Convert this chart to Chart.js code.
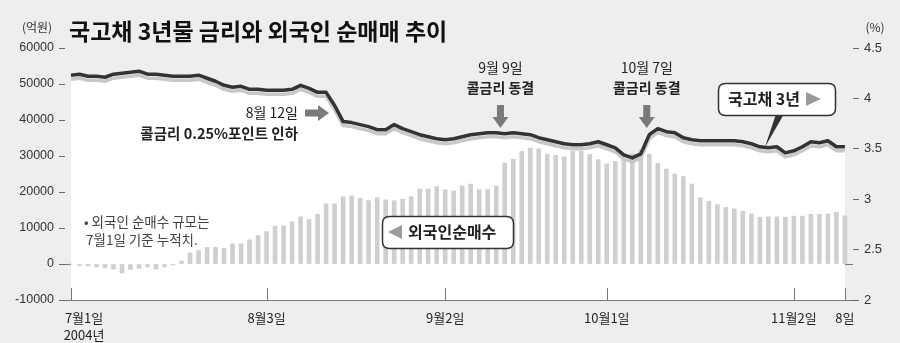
<!DOCTYPE html>
<html>
<head>
<meta charset="utf-8">
<script src="https://cdn.jsdelivr.net/npm/chart.js@4"></script>
<style>
  html, body { margin: 0; padding: 0; background: #eeeeee; }
  canvas { display: block; }
</style>
</head>
<body>
<canvas id="chart" width="900" height="343"></canvas>
<script>
// 국고채 3년물 금리 (%), 7월1일 ~ 11월8일 거래일 순서
const rate3y = [
  4.23, 4.24, 4.22, 4.22, 4.21, 4.24, 4.25, 4.26, 4.27, 4.24,
  4.24, 4.23, 4.22, 4.22, 4.22, 4.23, 4.20, 4.17, 4.13, 4.11,
  4.12, 4.09, 4.09, 4.08, 4.08, 4.08, 4.09, 4.13, 4.10, 4.06,
  4.06, 3.93, 3.77, 3.76, 3.74, 3.72, 3.69, 3.69, 3.74, 3.70,
  3.67, 3.64, 3.62, 3.60, 3.59, 3.60, 3.62, 3.64, 3.65, 3.66,
  3.66, 3.65, 3.66, 3.65, 3.64, 3.61, 3.59, 3.57, 3.55, 3.54,
  3.54, 3.55, 3.57, 3.54, 3.51, 3.44, 3.41, 3.45, 3.64, 3.70,
  3.67, 3.66, 3.61, 3.59, 3.58, 3.58, 3.58, 3.58, 3.58, 3.57,
  3.55, 3.52, 3.51, 3.52, 3.46, 3.48, 3.52, 3.57, 3.56, 3.58,
  3.52, 3.52
];

// 외국인 순매수 누적 (억원)
const netBuy = [
  0, -500, -500, -800, -1000, -1400, -2500, -1500, -1200, -800,
  -1400, -800, -300, 800, 3100, 3700, 4600, 4600, 4300, 5600,
  5600, 6700, 7900, 9000, 10500, 10600, 11700, 13100, 12400, 13800,
  16700, 16700, 18700, 18900, 18300, 17600, 18400, 17800, 17600, 18000,
  18700, 20800, 20800, 21500, 20600, 20300, 21700, 22200, 20600, 20700,
  21700, 28000, 29100, 31300, 32200, 32000, 30500, 30200, 29800, 31300,
  31300, 30400, 29000, 27800, 28500, 29500, 30600, 31800, 30500, 28000,
  26400, 25000, 24300, 22200, 18400, 17400, 16500, 15700, 15300, 14700,
  13900, 13000, 13100, 13100, 13000, 13300, 13300, 13800, 13800, 13900,
  14400, 13400
];

// x축 눈금 (거래일 순번)과 라벨
const xTickIndex = [0, 23, 44, 63, 85, 91];
const xTickLabel = [['         7월1일', '         2004년'], '8월3일', '9월2일', '10월1일', '11월2일', '8일'];

const KR = '"Noto Sans CJK KR", sans-serif';
const NUM = '"Liberation Sans", Arial, sans-serif';

// 선 그림자
const lineShadow = {
  id: 'lineShadow',
  beforeDatasetDraw(chart, args) {
    if (args.index !== 0) return;
    const ctx = chart.ctx;
    ctx.save();
    ctx.shadowColor = '#c8c8c8';
    ctx.shadowOffsetX = 0;
    ctx.shadowOffsetY = 4;
    ctx.shadowBlur = 0;
  },
  afterDatasetDraw(chart, args) {
    if (args.index === 0) chart.ctx.restore();
  }
};

function roundBox(ctx, x, y, w, h, r) {
  ctx.beginPath();
  ctx.moveTo(x + r, y);
  ctx.lineTo(x + w - r, y);
  ctx.quadraticCurveTo(x + w, y, x + w, y + r);
  ctx.lineTo(x + w, y + h - r);
  ctx.quadraticCurveTo(x + w, y + h, x + w - r, y + h);
  ctx.lineTo(x + r, y + h);
  ctx.quadraticCurveTo(x, y + h, x, y + h - r);
  ctx.lineTo(x, y + r);
  ctx.quadraticCurveTo(x, y, x + r, y);
  ctx.closePath();
}

function downArrow(ctx, cx, y0, y1) {
  ctx.fillStyle = '#7a7a7a';
  ctx.fillRect(cx - 3.5, y0, 7, y1 - y0 - 10);
  ctx.beginPath();
  ctx.moveTo(cx - 8, y1 - 11);
  ctx.lineTo(cx + 8, y1 - 11);
  ctx.lineTo(cx, y1);
  ctx.closePath();
  ctx.fill();
}

function rightArrow(ctx, x0, x1, cy) {
  ctx.fillStyle = '#7a7a7a';
  ctx.fillRect(x0, cy - 3.5, x1 - x0 - 10, 7);
  ctx.beginPath();
  ctx.moveTo(x1 - 11, cy - 8);
  ctx.lineTo(x1 - 11, cy + 8);
  ctx.lineTo(x1, cy);
  ctx.closePath();
  ctx.fill();
}

const notes = {
  id: 'notes',
  afterDraw(chart) {
    const { ctx, chartArea, scales: { x } } = chart;
    ctx.save();

    // x축 눈금선 (안쪽)
    ctx.strokeStyle = '#777';
    ctx.lineWidth = 1;
    xTickIndex.forEach(v => {
      const px = Math.round(x.getPixelForValue(v)) + 0.5;
      ctx.beginPath();
      ctx.moveTo(px, chartArea.bottom - 12);
      ctx.lineTo(px, chartArea.bottom);
      ctx.stroke();
    });

    ctx.textBaseline = 'middle';

    // 제목
    ctx.fillStyle = '#111';
    ctx.textAlign = 'left';
    ctx.font = 'bold 23px ' + KR;
    ctx.fillText('국고채 3년물 금리와 외국인 순매매 추이', 69, 31);

    // 단위
    ctx.fillStyle = '#333';
    ctx.font = '12px ' + KR;
    ctx.textAlign = 'center';
    ctx.fillText('(억원)', 37, 27);
    ctx.fillText('(%)', 875, 27);

    // 8월 12일
    ctx.fillStyle = '#222';
    ctx.textAlign = 'right';
    ctx.font = '14px ' + KR;
    ctx.fillText('8월 12일', 298, 113);
    ctx.font = 'bold 14.5px ' + KR;
    ctx.fillText('콜금리 0.25%포인트 인하', 298, 133);
    rightArrow(ctx, 305, 329, 113);

    // 9월 9일, 10월 7일
    [[50.5, '9월 9일'], [67.7, '10월 7일']].forEach(([idx, day]) => {
      const px = x.getPixelForValue(idx);
      ctx.fillStyle = '#222';
      ctx.textAlign = 'center';
      ctx.font = '14px ' + KR;
      ctx.fillText(day, px, 68);
      ctx.font = 'bold 14px ' + KR;
      ctx.fillText('콜금리 동결', px, 88);
      downArrow(ctx, px, 105, 128);
    });

    // 국고채 3년 말풍선
    ctx.fillStyle = '#333';
    ctx.beginPath();
    ctx.moveTo(776, 114);
    ctx.lineTo(784, 114);
    ctx.lineTo(765, 147);
    ctx.closePath();
    ctx.fill();
    roundBox(ctx, 718.5, 83.5, 117, 32, 7);
    ctx.fillStyle = '#fff';
    ctx.fill();
    ctx.strokeStyle = '#333';
    ctx.lineWidth = 1.5;
    ctx.stroke();
    ctx.fillStyle = '#222';
    ctx.textAlign = 'left';
    ctx.font = 'bold 16px ' + KR;
    ctx.fillText('국고채 3년', 728, 99);
    ctx.fillStyle = '#9a9a9a';
    ctx.beginPath();
    ctx.moveTo(806, 92);
    ctx.lineTo(806, 106);
    ctx.lineTo(821, 99);
    ctx.closePath();
    ctx.fill();

    // 외국인순매수 상자
    roundBox(ctx, 382.5, 216.5, 131, 32, 7);
    ctx.fillStyle = '#fff';
    ctx.fill();
    ctx.strokeStyle = '#333';
    ctx.stroke();
    ctx.fillStyle = '#9a9a9a';
    ctx.beginPath();
    ctx.moveTo(402, 225);
    ctx.lineTo(402, 239);
    ctx.lineTo(388, 232);
    ctx.closePath();
    ctx.fill();
    ctx.fillStyle = '#222';
    ctx.font = 'bold 16px ' + KR;
    ctx.fillText('외국인순매수', 408, 232);

    // 주석
    ctx.fillStyle = '#444';
    ctx.font = '13.5px ' + KR;
    ctx.fillText('• 외국인 순매수 규모는', 84, 222);
    ctx.fillText('7월1일 기준 누적치.', 86, 240);

    ctx.restore();
  }
};

const ctx = document.getElementById('chart');
const myChart = new Chart(ctx, {
  type: 'bar',
  data: {
    datasets: [{
      type: 'line',
      label: '국고채 3년',
      data: rate3y.map((v, i) => ({ x: i, y: v })),
      yAxisID: 'y2',
      borderColor: '#333333',
      borderWidth: 3.5,
      backgroundColor: '#ffffff',
      fill: 'start',
      pointRadius: 0,
      tension: 0,
      borderJoinStyle: 'round'
    }, {
      type: 'bar',
      label: '외국인순매수',
      data: netBuy.map((v, i) => ({ x: i, y: v })),
      yAxisID: 'y',
      backgroundColor: '#cfcfcf',
      barThickness: 4,
      clip: 6
    }]
  },
  options: {
    responsive: false,
    animation: false,
    layout: { padding: { top: 48, left: 0, right: 0, bottom: 0 } },
    plugins: {
      legend: { display: false },
      tooltip: { enabled: false },
      filler: { drawTime: 'beforeDatasetsDraw' }
    },
    scales: {
      x: {
        type: 'linear',
        min: -0.7,
        max: 91.95,
        offset: false,
        grid: { display: false },
        border: { display: false },
        afterBuildTicks: s => { s.ticks = xTickIndex.map(v => ({ value: v })); },
        afterFit: s => { s.height = 43; },
        ticks: {
          autoSkip: false,
          maxRotation: 0,
          padding: 1,
          color: '#222',
          font: { family: KR, size: 13, lineHeight: 1.35 },
          callback: v => {
            const k = xTickIndex.indexOf(v);
            return k >= 0 ? xTickLabel[k] : '';
          }
        }
      },
      y: {
        position: 'left',
        min: -10000,
        max: 60000,
        afterFit: s => { s.width = 65; },
        border: { display: false },
        grid: {
          drawTicks: true,
          tickLength: 6,
          tickColor: '#666',
          color: c => (c.tick && (c.tick.value === 0 || c.tick.value === -10000)) ? '#777' : 'rgba(0,0,0,0)'
        },
        ticks: {
          stepSize: 10000,
          padding: 5,
          color: '#333',
          font: { family: NUM, size: 12.5 },
          callback: v => String(v)
        }
      },
      y2: {
        position: 'right',
        min: 2,
        max: 4.5,
        afterFit: s => { s.width = 47; },
        border: { display: false },
        grid: { drawOnChartArea: false, tickLength: 6, tickColor: '#666' },
        ticks: {
          stepSize: 0.5,
          padding: 5,
          color: '#333',
          font: { family: NUM, size: 13 },
          callback: v => String(v)
        }
      }
    }
  },
  plugins: [lineShadow, notes]
});
</script>
</body>
</html>
